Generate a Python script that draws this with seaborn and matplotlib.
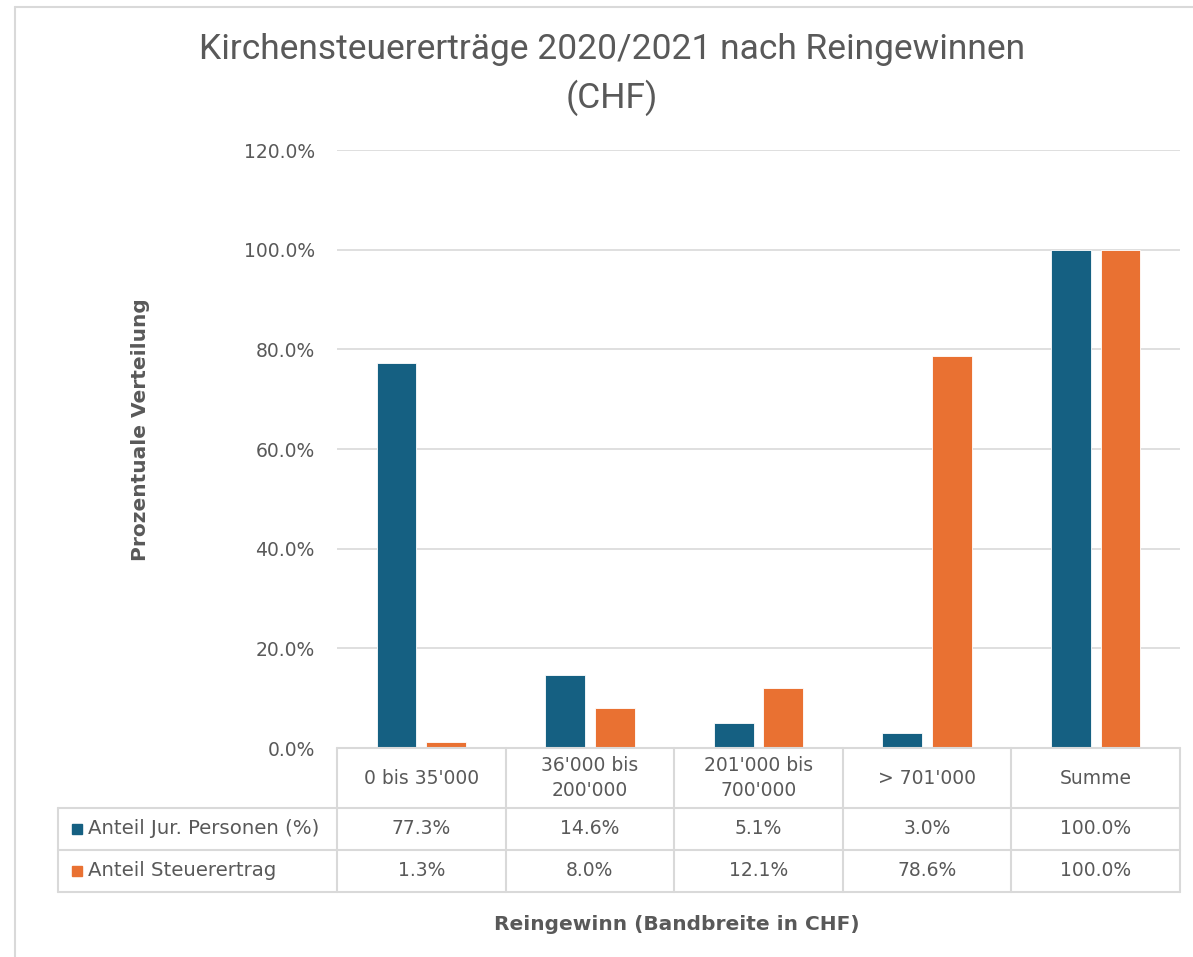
import pandas as pd
import matplotlib.pyplot as plt
import seaborn as sns
from matplotlib.lines import Line2D
from matplotlib.patches import Rectangle

# chart data
categories = ["0 bis 35'000", "36'000 bis\n200'000", "201'000 bis\n700'000", "> 701'000", "Summe"]
series_names = ["Anteil Jur. Personen (%)", "Anteil Steuerertrag"]
anteil_personen = [77.3, 14.6, 5.1, 3.0, 100.0]
anteil_steuer = [1.3, 8.0, 12.1, 78.6, 100.0]
yticks = [0, 20, 40, 60, 80, 100, 120]

colors = ["#156082", "#E97132"]
text_gray = "#595959"
line_gray = "#D9D9D9"
wide = ['DejaVu Sans']

df = pd.DataFrame({
    "Kategorie": categories * 2,
    "Serie": [series_names[0]] * len(categories) + [series_names[1]] * len(categories),
    "Wert": anteil_personen + anteil_steuer,
})

sns.set_theme(style="white")
plt.rcParams['font.family'] = ['Roboto', 'DejaVu Sans']

W, H = 1193, 957
fig = plt.figure(figsize=(W / 100, H / 100), dpi=100)
ax = fig.add_axes([337 / W, 1 - 748 / H, (1180 - 337) / W, (748 - 150) / H])

sns.barplot(data=df, x="Kategorie", y="Wert", hue="Serie", palette=colors,
            width=0.59, gap=0.2, ax=ax, legend=False,
            edgecolor="white", linewidth=0.6, saturation=1)

ax.set_ylim(0, 120)
ax.set_xlim(-0.5, len(categories) - 0.5)
ax.set_yticks(yticks)
ax.set_yticklabels([f"{v:.1f}%" for v in yticks], fontsize=13.5, color=text_gray,
                   family=wide)
ax.tick_params(axis="y", length=0, pad=16)
ax.set_xticks([])
ax.set_xlabel("")
ax.set_ylabel("")
ax.yaxis.grid(True, color=line_gray, linewidth=1.2)
ax.set_axisbelow(True)
for s in ax.spines.values():
    s.set_visible(False)

# data table below the axes (x in data coordinates, y in axes fraction)
trans = ax.get_xaxis_transform()
h_axes = 748 - 150
row_edges = [0, -(808 - 748) / h_axes, -(850 - 748) / h_axes, -(892 - 748) / h_axes]
x_left = ax.transData.inverted().transform(ax.transAxes.transform((0, 0)))[0]
x_label_col = x_left - (337 - 58) / (1180 - 337) * len(categories)

lk = dict(color=line_gray, linewidth=1.5, transform=trans, clip_on=False)
ax.add_line(Line2D([-0.5, len(categories) - 0.5], [0, 0], **lk))
for y in row_edges[1:]:
    ax.add_line(Line2D([x_label_col, len(categories) - 0.5], [y, y], **lk))
for i in range(len(categories) + 1):
    ax.add_line(Line2D([i - 0.5, i - 0.5], [row_edges[0], row_edges[-1]], **lk))
ax.add_line(Line2D([x_label_col, x_label_col], [row_edges[1], row_edges[-1]], **lk))

for i, cat in enumerate(categories):
    ax.text(i, (row_edges[0] + row_edges[1]) / 2, cat, transform=trans, ha="center",
            va="center", fontsize=13.5, color=text_gray, linespacing=1.4, clip_on=False,
            family=wide)
for r, vals in enumerate([anteil_personen, anteil_steuer]):
    yc = (row_edges[r + 1] + row_edges[r + 2]) / 2
    for i, v in enumerate(vals):
        ax.text(i, yc, f"{v:.1f}%", transform=trans, ha="center", va="center",
                fontsize=13.5, color=text_gray, clip_on=False, family=wide)
    # legend key and series name
    ax.add_patch(Rectangle((x_label_col + 0.085, yc - 0.009), 0.058, 0.018,
                           transform=trans, color=colors[r], clip_on=False))
    ax.text(x_label_col + 0.18, yc, series_names[r], transform=trans, ha="left",
            va="center", fontsize=14.2, color=text_gray, clip_on=False, family=wide)

fig.text(612 / W, 1 - 50 / H, "Kirchensteuererträge 2020/2021 nach Reingewinnen",
         ha="center", va="center", fontsize=25.5, color=text_gray)
fig.text(612 / W, 1 - 98 / H, "(CHF)", ha="center", va="center", fontsize=25.5, color=text_gray)
fig.text(140 / W, 1 - 430 / H, "Prozentuale Verteilung", rotation=90, ha="center",
         va="center", fontsize=14.5, fontweight="bold", color=text_gray, family=wide)
fig.text(677 / W, 1 - 925 / H, "Reingewinn (Bandbreite in CHF)", ha="center",
         va="center", fontsize=14.5, fontweight="bold", color=text_gray, family=wide)

# chart frame (left and top edges visible)
fig.add_artist(Line2D([15 / W, 15 / W], [0, 1 - 7 / H], transform=fig.transFigure,
                      color=line_gray, linewidth=1.5))
fig.add_artist(Line2D([15 / W, 1], [1 - 7 / H, 1 - 7 / H], transform=fig.transFigure,
                      color=line_gray, linewidth=1.5))

fig.savefig("out.png", dpi=100, facecolor="white")
